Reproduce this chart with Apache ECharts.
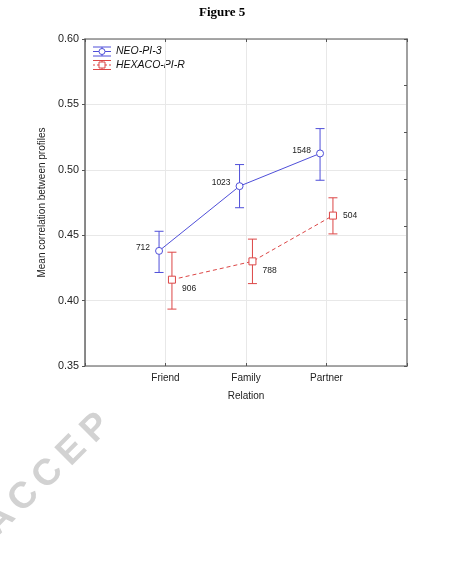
<!DOCTYPE html>
<html>
<head>
<meta charset="utf-8">
<script src="https://cdn.jsdelivr.net/npm/echarts@6/dist/echarts.min.js"></script>
<style>
  html, body { margin: 0; padding: 0; background: #fff; }
  #chart { width: 453px; height: 581px; }
</style>
</head>
<body>
<div id="chart"></div>
<script>
// data
var categories = ['Friend', 'Family', 'Partner'];
var neoMean = [0.438, 0.4875, 0.5125];
var neoLow = [0.4215, 0.471, 0.492];
var neoHigh = [0.453, 0.504, 0.5315];
var neoN = [712, 1023, 1548];
var hexMean = [0.416, 0.430, 0.465];
var hexLow = [0.3935, 0.413, 0.451];
var hexHigh = [0.437, 0.447, 0.4786];
var hexN = [906, 788, 504];
var yTicks = ['0.35', '0.40', '0.45', '0.50', '0.55', '0.60'];

var blue = '#4f4fd9';
var red = '#dc4646';
var font = 'Liberation Sans';
var dodge = 0.08;

function points(mean, n, shift) {
  return mean.map(function (v, i) { return [i + 1 + shift, v, n[i]]; });
}
function bars(lo, hi, shift) {
  return lo.map(function (v, i) { return [i + 1 + shift, v, hi[i]]; });
}

function errorBar(color) {
  return function (params, api) {
    var x = api.value(0);
    var top = api.coord([x, api.value(2)]);
    var bot = api.coord([x, api.value(1)]);
    var w = 4.5;
    var st = { stroke: color, lineWidth: 1 };
    return {
      type: 'group',
      children: [
        { type: 'line', shape: { x1: top[0], y1: top[1], x2: bot[0], y2: bot[1] }, style: st },
        { type: 'line', shape: { x1: top[0] - w, y1: top[1], x2: top[0] + w, y2: top[1] }, style: st },
        { type: 'line', shape: { x1: bot[0] - w, y1: bot[1], x2: bot[0] + w, y2: bot[1] }, style: st }
      ]
    };
  };
}

function legendIcon(cx, cy, color, marker, dashed) {
  var st = { stroke: color, lineWidth: 1 };
  var mid = { stroke: color, lineWidth: 1, lineDash: dashed ? [2, 2] : null };
  var m = marker === 'circle'
    ? { type: 'circle', shape: { cx: cx, cy: cy, r: 3 }, style: { fill: '#fff', stroke: color, lineWidth: 1 } }
    : { type: 'rect', shape: { x: cx - 3, y: cy - 3, width: 6, height: 6 }, style: { fill: '#fff', stroke: color, lineWidth: 1 } };
  return {
    type: 'group',
    children: [
      { type: 'line', shape: { x1: cx - 9, y1: cy - 4.5, x2: cx + 9, y2: cy - 4.5 }, style: st },
      { type: 'line', shape: { x1: cx - 9, y1: cy + 4.5, x2: cx + 9, y2: cy + 4.5 }, style: st },
      { type: 'line', shape: { x1: cx - 9, y1: cy, x2: cx + 9, y2: cy }, style: mid },
      { type: 'line', shape: { x1: cx, y1: cy - 4.5, x2: cx, y2: cy + 4.5 }, style: st },
      m
    ]
  };
}

// watermark letters
var wm = 'ACCEP'.split('').map(function (ch, i) {
  return {
    type: 'text', z: -10,
    x: 0 + i * 24, y: 520 - i * 23,
    rotation: Math.PI / 4,
    style: { text: ch, font: '900 37px "' + font + '"', fill: '#d2d2d2', textAlign: 'center', textVerticalAlign: 'middle' }
  };
});

var chart = echarts.init(document.getElementById('chart'));
chart.setOption({
  animation: false,
  backgroundColor: '#fff',
  title: {
    text: 'Figure 5', left: 194, top: 1,
    textStyle: { fontFamily: 'Liberation Serif', fontWeight: 'bold', fontSize: 13, color: '#000' }
  },
  grid: { left: 85, right: 46, top: 39, bottom: 215 },
  xAxis: [{
    type: 'value', min: 0, max: 4, interval: 1, position: 'bottom',
    name: 'Relation', nameLocation: 'middle', nameGap: 25,
    nameTextStyle: { fontFamily: font, fontSize: 10, color: '#222' },
    axisLine: { lineStyle: { color: '#8a8a8a', width: 1.5 } },
    axisTick: { inside: true, length: 3, lineStyle: { color: '#555' } },
    axisLabel: {
      margin: 7, fontFamily: font, fontSize: 10, color: '#222',
      formatter: function (v) { return categories[v - 1] || ''; }
    },
    splitLine: { show: true, lineStyle: { color: '#e8e8e8' } }
  }, {
    type: 'value', min: 0, max: 4, interval: 1, position: 'top',
    axisLine: { show: true, lineStyle: { color: '#8a8a8a', width: 1.5 } },
    axisTick: { show: true, inside: true, length: 3, lineStyle: { color: '#555' } },
    axisLabel: { show: false }, splitLine: { show: false }
  }],
  yAxis: [{
    type: 'value', min: 0.35, max: 0.60, interval: 0.05, position: 'left',
    name: 'Mean correlation between profiles', nameLocation: 'middle', nameGap: 32,
    nameTextStyle: { fontFamily: font, fontSize: 10, color: '#222' },
    axisLine: { show: true, lineStyle: { color: '#666', width: 1.5 } },
    axisTick: { show: true, length: 3, lineStyle: { color: '#555' } },
    axisLabel: {
      margin: 6, fontFamily: font, fontSize: 10.8, color: '#222',
      formatter: function (v) { return yTicks[Math.round((v - 0.35) / 0.05)]; }
    },
    splitLine: { show: true, lineStyle: { color: '#e8e8e8' } }
  }, {
    type: 'value', min: 0, max: 7, interval: 1, position: 'right',
    axisLine: { show: true, onZero: false, lineStyle: { color: '#a0a0a0', width: 2 } },
    axisTick: { show: true, inside: true, length: 3, lineStyle: { color: '#555' } },
    axisLabel: { show: false }, splitLine: { show: false }
  }],
  series: [{
    type: 'custom', name: 'neoErr', z: 2,
    renderItem: errorBar(blue), encode: { x: 0, y: [1, 2] },
    data: bars(neoLow, neoHigh, -dodge)
  }, {
    type: 'custom', name: 'hexErr', z: 2,
    renderItem: errorBar(red), encode: { x: 0, y: [1, 2] },
    data: bars(hexLow, hexHigh, dodge)
  }, {
    type: 'line', name: 'NEO-PI-3', z: 3,
    data: points(neoMean, neoN, -dodge),
    symbol: 'circle', symbolSize: 7,
    itemStyle: { color: '#fff', borderColor: blue, borderWidth: 1 },
    lineStyle: { color: blue, width: 1 },
    label: {
      show: true, position: 'left', distance: 5, offset: [0, -3],
      fontFamily: font, fontSize: 8.5, color: '#222',
      formatter: function (p) { return p.value[2]; }
    }
  }, {
    type: 'line', name: 'HEXACO-PI-R', z: 3,
    data: points(hexMean, hexN, dodge).map(function (d, i) {
      return { value: d, label: { offset: [0, i < 2 ? 9 : 0] } };
    }),
    symbol: 'rect', symbolSize: 7,
    itemStyle: { color: '#fff', borderColor: red, borderWidth: 1 },
    lineStyle: { color: red, width: 1, type: [4, 3] },
    label: {
      show: true, position: 'right', distance: 6,
      fontFamily: font, fontSize: 8.5, color: '#222',
      formatter: function (p) { return p.value[2]; }
    }
  }],
  graphic: wm.concat([
    legendIcon(102, 51.5, blue, 'circle', false),
    legendIcon(102, 65, red, 'rect', true),
    { type: 'text', x: 116, y: 51.5, style: { text: 'NEO-PI-3', font: 'italic 10.5px "' + font + '"', fill: '#111', textVerticalAlign: 'middle' } },
    { type: 'text', x: 116, y: 65, style: { text: 'HEXACO-PI-R', font: 'italic 10.5px "' + font + '"', fill: '#111', textVerticalAlign: 'middle' } }
  ])
});
</script>
</body>
</html>
